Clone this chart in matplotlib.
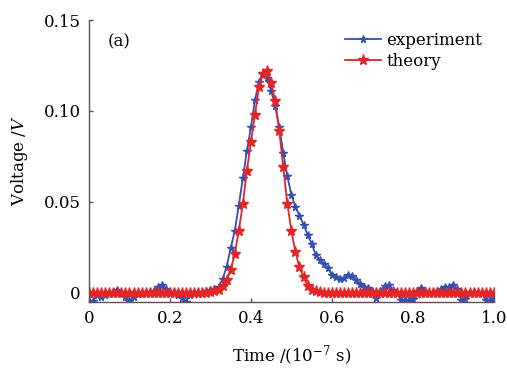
import numpy as np
import matplotlib.pyplot as plt

# time axis in units of 1e-7 s, sampled every 0.01
time = np.round(np.arange(0, 101) * 0.01, 2)

experiment = [
    -0.0045, -0.0045, -0.0010, -0.0020, -0.0010, 0.0000, 0.0005, 0.0018, 0.0000, -0.0020,
    -0.0045, -0.0020, 0.0000, -0.0005, 0.0000, 0.0005, 0.0010, 0.0035, 0.0045, 0.0020,
    0.0000, 0.0005, -0.0010, -0.0030, -0.0048, -0.0010, 0.0000, 0.0005, 0.0005, 0.0010,
    0.0015, 0.0020, 0.0035, 0.0075, 0.0145, 0.0245, 0.0340, 0.0480, 0.0630, 0.0780,
    0.0910, 0.1060, 0.1160, 0.1210, 0.1180, 0.1110, 0.1030, 0.0910, 0.0770, 0.0640,
    0.0540, 0.0470, 0.0425, 0.0375, 0.0320, 0.0270, 0.0210, 0.0180, 0.0160, 0.0135,
    0.0100, 0.0085, 0.0078, 0.0082, 0.0099, 0.0092, 0.0072, 0.0048, 0.0030, 0.0026,
    0.0008, -0.0030, 0.0012, 0.0038, 0.0042, 0.0015, 0.0000, -0.0038, -0.0038, -0.0038,
    -0.0035, 0.0012, 0.0028, 0.0010, 0.0000, 0.0005, 0.0010, 0.0020, 0.0035, 0.0030,
    0.0045, 0.0020, -0.0038, -0.0035, 0.0000, 0.0005, 0.0000, 0.0000, -0.0038, -0.0038,
    -0.0035,
]

theory = [0.0] * 30 + [
    0.0003, 0.0008, 0.0018, 0.0038, 0.0072, 0.0125, 0.0215, 0.0340, 0.0490, 0.0670,
    0.0830, 0.0980, 0.1130, 0.1205, 0.1220, 0.1155, 0.1055, 0.0890, 0.0690, 0.0490,
    0.0340, 0.0225, 0.0140, 0.0085, 0.0040, 0.0018, 0.0008, 0.0003,
] + [0.0] * 43

plt.rcParams['font.family'] = 'DejaVu Serif'
plt.rcParams['mathtext.fontset'] = 'dejavuserif'

fig = plt.figure(figsize=(5.07, 3.74), dpi=100)
ax = fig.add_axes([0.1755, 0.1925, 0.7985, 0.754])

ax.plot(time, experiment, color='#3550b4', marker='*', markersize=5.5,
        linewidth=1.3, label='experiment')
ax.plot(time, theory, color='#e42525', marker='*', markersize=8,
        linewidth=1.3, label='theory')

ax.set_xlim(0, 1.0)
ax.set_ylim(-0.005, 0.15)
ax.set_xticks([0, 0.2, 0.4, 0.6, 0.8, 1.0])
ax.set_xticklabels(['0', '0.2', '0.4', '0.6', '0.8', '1.0'])
ax.set_yticks([0, 0.05, 0.10, 0.15])
ax.set_yticklabels(['0', '0.05', '0.10', '0.15'])

for s in ['top', 'right']:
    ax.spines[s].set_visible(False)
for s in ['left', 'bottom']:
    ax.spines[s].set_color('#555555')
    ax.spines[s].set_linewidth(1.0)
ax.tick_params(direction='in', length=3, width=1.0, color='#555555',
               labelsize=12, pad=6)

ax.set_xlabel('Time /(10$^{-7}$ s)', fontsize=12, labelpad=12)
ax.set_ylabel('Voltage /$V$', fontsize=12, labelpad=10)

ax.text(0.045, 0.138, '(a)', fontsize=12, va='center')

ax.legend(loc='upper right', bbox_to_anchor=(1.0, 1.0), frameon=False,
          fontsize=12, handlelength=2.2, handletextpad=0.3, labelspacing=0.25,
          borderaxespad=0.3)

fig.savefig('out.png', dpi=100)
